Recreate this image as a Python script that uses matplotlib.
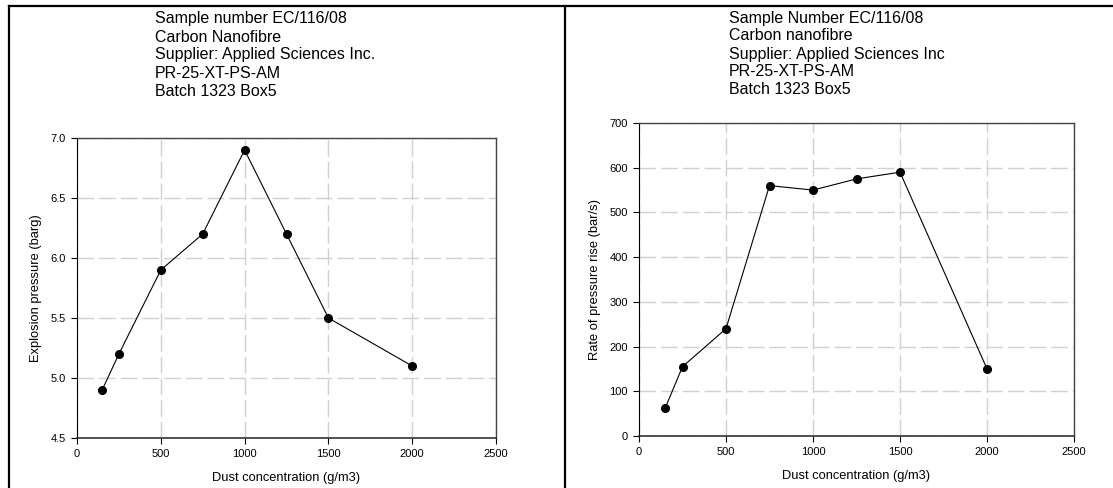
import matplotlib
matplotlib.use('Agg')
import matplotlib.pyplot as plt
from matplotlib.lines import Line2D

plt.rcParams['font.family'] = ['Liberation Sans', 'DejaVu Sans']

# Datos
concentracion = [150, 250, 500, 750, 1000, 1250, 1500, 2000]
presion = [4.9, 5.2, 5.9, 6.2, 6.9, 6.2, 5.5, 5.1]
velocidad = [62, 155, 240, 560, 550, 575, 590, 150]

titulo_izq = ["Sample number EC/116/08", "Carbon Nanofibre",
              "Supplier: Applied Sciences Inc.", "PR-25-XT-PS-AM", "Batch 1323 Box5"]
titulo_der = ["Sample Number EC/116/08", "Carbon nanofibre",
              "Supplier: Applied Sciences Inc", "PR-25-XT-PS-AM", "Batch 1323 Box5"]

W, H = 1113, 488
fig = plt.figure(figsize=(W / 100, H / 100), dpi=100)

def caja(x0, x1, y0, y1):
    # convierte pixeles a coordenadas de figura
    return [x0 / W, 1 - y1 / H, (x1 - x0) / W, (y1 - y0) / H]

def preparar(ax, ylim, yticks, ylabel):
    ax.set_xlim(0, 2500)
    ax.set_ylim(*ylim)
    ax.set_xticks([0, 500, 1000, 1500, 2000, 2500])
    ax.set_yticks(yticks)
    ax.grid(True, color='#d0d0d0', linestyle=(0, (12, 3.6)), linewidth=1.0)
    ax.set_axisbelow(True)
    ax.tick_params(direction='out', length=4, width=0.8, labelsize=8, pad=4,
                   top=False, right=False)
    for lado in ['top', 'right']:
        ax.spines[lado].set_color('#444444')
        ax.spines[lado].set_linewidth(1.0)
    ax.spines['left'].set_color('black')
    ax.spines['left'].set_linewidth(0.8)
    ax.spines['bottom'].set_color('#333333')
    ax.spines['bottom'].set_linewidth(1.2)
    ax.set_xlabel('Dust concentration (g/m3)', fontsize=9.3, labelpad=9)
    ax.set_ylabel(ylabel, fontsize=9.3, labelpad=6)

ax1 = fig.add_axes(caja(77, 496, 138, 438))
ax1.plot(concentracion, presion, color='black', linewidth=0.8,
         marker='o', markersize=5.5, markerfacecolor='black')
preparar(ax1, (4.5, 7.0), [4.5, 5.0, 5.5, 6.0, 6.5, 7.0], 'Explosion pressure (barg)')
ax1.set_yticklabels(['4.5', '5.0', '5.5', '6.0', '6.5', '7.0'])

ax2 = fig.add_axes(caja(639, 1074, 123, 436))
ax2.plot(concentracion, velocidad, color='black', linewidth=0.8,
         marker='o', markersize=5.5, markerfacecolor='black')
preparar(ax2, (0, 700), list(range(0, 701, 100)), 'Rate of pressure rise (bar/s)')

# Titulos de varias lineas
for i, t in enumerate(titulo_izq):
    fig.text(155 / W, 1 - (19 + 18 * i) / H, t, fontsize=11.5, va='center', ha='left')
for i, t in enumerate(titulo_der):
    fig.text(729 / W, 1 - (18 + 18 * i) / H, t, fontsize=11.5, va='center', ha='left')

# Marco de la tabla
for xs, ys in [([9, 9], [5.5, H]), ([565, 565], [5.5, H]), ([9, W], [5.5, 5.5])]:
    fig.add_artist(Line2D([x / W for x in xs], [1 - y / H for y in ys],
                          color='black', linewidth=1.6, transform=fig.transFigure))

fig.savefig('out.png', dpi=100)
